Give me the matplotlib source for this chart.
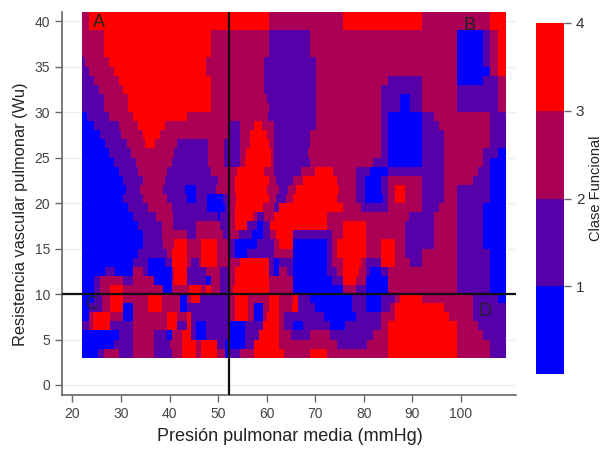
# -*- coding: utf-8 -*-

import matplotlib
matplotlib.use("Agg")
import matplotlib.pyplot as plt
import numpy as np
from matplotlib.colors import ListedColormap, BoundaryNorm

plt.rcParams['font.family'] = ['Liberation Sans', 'DejaVu Sans']

classColors = ['#0000ff', '#5500a8', '#aa0055', '#ff0000']
classEdges = [0, 1, 2, 3, 4]
xTicks = [20, 30, 40, 50, 60, 70, 80, 90, 100]
yTicks = [0, 5, 10, 15, 20, 25, 30, 35, 40]
xCut = 52.3
yCut = 10
cornerLabels = [("A", 25.5, 39.8), ("B", 101.8, 39.5), ("C", 23.9, 8.8), ("D", 105, 8.1)]

# each row: class, x where that class stops, class, x, ...
rows = {
    40: [3,23.5,4,60.5,3,75.85,4,92,3,106,4,109.2],
    39: [3,23.5,4,60.5,3,75.85,4,92,3,106,4,109.2],
    38: [3,26.4,4,48.5,3,60.5,2,69,3,99.35,1,104.5,2,106,3,107.8,4,109.2],
    37: [3,26.4,4,48.5,3,60.5,2,69,3,99.35,1,104.5,2,106,3,107.8,4,109.2],
    36: [3,26.4,4,48.5,3,60.5,2,69,3,99.35,1,104.5,2,106,3,107.8,4,109.2],
    35: [2,22.4,3,27.5,4,47.5,3,59.5,2,70.35,3,99.35,1,104.5,2,106,3,107.8,4,109.2],
    34: [2,23.4,3,28.5,4,47.5,3,59.5,2,70.35,3,99.35,1,106,3,107.8,4,109.2],
    33: [2,24.5,3,29.5,4,48.5,3,59.5,2,70.35,3,84.9,2,92,3,99.35,1,104.5,2,107.8,3,109.2],
    32: [2,25.5,3,30.5,4,48.5,3,59.5,2,70.35,3,83.4,2,92,3,99.35,2,107.8,3,109.2],
    31: [2,26.4,3,31.5,4,48.5,3,60,2,70.35,3,83.4,2,87.5,1,89.5,2,92,3,99.35,2,107.8,3,109.2],
    30: [2,26.4,3,31.5,4,48.5,3,60.5,2,70.35,3,83.4,2,87.5,1,89.5,2,92,3,99.35,2,107.8,3,109.2],
    29: [1,23,2,27.5,3,32.5,4,43.5,3,60.3,2,70.35,3,83.4,2,84.9,1,92,2,94.4,3,106,2,109.2],
    28: [1,24.5,2,29.5,3,33.5,4,39,3,52.5,2,54.6,3,57.6,4,59,3,61.4,2,70.35,3,83.4,2,84.9,1,92,2,95.4,3,106,2,109.2],
    27: [1,25.7,2,30,3,34.5,4,38,3,52,2,54.6,3,56.5,4,60,3,61.4,2,69,3,83.4,2,84.9,1,92,2,96.5,3,106,2,109.2],
    26: [1,26.7,2,31.3,3,35,4,37,3,41.4,2,48,3,51.3,2,54.6,3,56.5,4,60.4,3,61.4,2,69,3,83.4,2,84.9,1,92,2,96.5,3,106,2,109.2],
    25: [1,27.5,2,32,3,41,2,48,3,51.3,2,54.6,3,55.8,4,60.9,3,61.5,2,68.5,3,83.4,2,84.9,1,92,2,96.5,3,104.5,2,107.8,1,109.2],
    24: [1,28.4,2,33,3,40.4,2,48,3,51.3,2,54.6,3,55.5,4,60.9,3,61.5,2,69,3,82,2,84.9,1,92,2,96.5,3,104.5,2,106,1,109.2],
    23: [1,29.5,2,33.6,3,39.5,2,48.5,3,54,4,59.5,3,61.4,2,67,3,70,4,73.8,3,78.6,2,81.3,1,84.9,2,96.5,3,103.5,2,106,1,109.2],
    22: [1,30.5,2,34.6,3,39,2,50,3,53.5,4,60.4,3,62,2,65.5,3,67.6,4,74.5,3,78.6,2,80.3,1,83.4,2,84.9,3,92,2,96.5,3,102.5,2,106,1,109.2],
    21: [1,31,2,34,3,38.7,2,43.3,1,45.6,2,49.5,3,53.5,4,60,3,62.5,2,64.5,3,66,4,75,3,78.6,2,80.3,1,83.4,2,84.9,3,86.5,4,88.4,3,92,2,96.5,3,99.35,2,106,1,109.2],
    20: [1,30.5,2,34.6,3,39.4,2,43.5,1,45.6,2,47.7,1,51,2,52.5,3,53.8,4,60.4,3,62,2,64,3,65.5,4,74.5,3,78.6,2,80.3,1,84,2,84.9,3,86.5,4,88.4,3,92,2,96.5,3,99.35,2,106,1,109.2],
    19: [1,31.5,2,35.6,3,40.4,2,47.7,1,51.4,2,52.1,3,53.5,4,59.3,3,61.4,2,62.5,4,75.85,3,79.6,2,84.9,3,92,2,95.4,3,99.35,2,104.4,1,109.2],
    18: [1,32.5,2,37.3,3,40.7,2,50,1,50.4,2,52.1,3,53.5,4,57.3,3,58,2,59.5,3,61.4,4,72.4,3,89.3,2,94.4,3,99.35,2,104.4,1,109.2],
    17: [1,33.5,2,38.4,3,40.7,2,45.6,3,50.4,2,52.1,3,53.5,4,55.9,2,58,1,59.3,2,60.7,4,72.4,3,75.85,4,80.5,3,88.6,2,94.4,3,99.35,2,104.4,1,109.2],
    16: [1,34.6,2,38.4,3,43.5,2,45.6,3,51,2,52.5,3,54.2,2,56.9,1,59.3,2,60.7,3,62,4,65.5,2,73.4,3,75.85,4,80.5,3,88.6,2,94.4,3,99.35,2,104.4,1,109.2],
    15: [1,34.6,2,38.7,3,41.1,4,43.6,3,46.6,4,49.7,3,52.1,2,53.5,1,58,2,61.4,3,62.5,4,65.4,1,72.4,2,73.4,3,74.5,4,80.5,3,83.4,4,86.5,3,88.6,2,94.4,3,99.35,2,104.4,1,109.2],
    14: [1,33.6,2,39.4,3,40.4,4,43.6,3,46.6,4,49.7,3,52.1,2,53.5,1,55.9,2,61.4,3,65.4,1,72.4,2,73.4,3,74.5,4,80.5,3,83.4,4,86.5,3,88.6,2,92,3,99.35,2,106,1,109.2],
    13: [1,32.5,2,35.6,1,39.1,2,40.4,4,43.6,3,44.6,2,46,3,46.6,4,49.7,3,54.5,4,60.4,2,61.4,1,62.4,2,65.4,1,72.4,2,73.4,3,75.85,4,79.6,3,80.5,2,83.4,4,86.5,3,89.5,2,92,3,99.35,2,106,1,109.2],
    12: [1,26.7,2,28.8,1,32.5,3,34.6,2,35.6,1,40.4,3,41.1,4,43.6,2,47.5,3,50.4,2,52.5,3,53.5,4,60.4,2,61.4,1,62.4,3,64.2,2,65.4,1,72.4,2,74.5,3,75.85,4,79,3,80.5,2,81.3,1,83.4,2,84.9,3,99.35,2,106,1,109.2],
    11: [1,24.6,2,25.7,3,30.5,2,32.5,3,36.7,1,40.4,3,41.1,4,43.6,2,47.5,1,48.5,3,50.4,2,52.1,3,53.5,4,60.4,3,65.4,1,73.4,2,75.85,4,78.6,3,80.5,1,84.9,3,99.35,2,106,1,109.2],
    10: [1,24.6,2,25.7,3,27.7,4,30.5,3,38.7,1,40.4,3,44,4,46.6,3,47.5,4,48.5,3,50.4,2,52.1,3,53,4,60.4,3,65.4,1,75.85,3,78.6,2,80.5,1,84.9,3,99.35,2,106,1,109.2],
    9: [1,24.6,2,26,3,27.7,4,30.5,3,35.6,4,38.4,3,42.2,1,43.5,3,44.6,4,46.3,2,52.5,3,53.5,4,56.3,3,60.4,4,62.4,3,65.4,4,66.6,2,69,1,77.6,2,80.5,1,83.4,2,86.5,3,87.5,4,92,3,102.6,2,107.8,1,109.2],
    8: [1,23.6,2,26,3,27.7,4,30.5,1,32.5,3,35.6,4,38.4,3,42.2,1,43.5,2,52.1,3,53.5,4,56.3,3,57.6,1,59.3,3,60.4,4,62.4,3,65.2,4,66.6,2,69.9,1,77.6,2,80.5,1,83.4,2,85.5,3,86.5,4,96.5,3,102.6,2,109.2],
    7: [1,23.6,3,24.3,4,27.7,3,30.5,1,32.5,3,39.4,4,41.5,3,43.5,4,44.6,2,52.5,3,53.5,4,56.3,3,57.6,1,59.3,3,60,4,62.4,3,63.5,2,71.7,1,78.5,2,83.4,3,86.5,4,97.5,3,102.6,2,109.2],
    6: [2,23.6,3,24.3,4,27.7,2,32.5,3,39.4,4,41.5,2,43.5,4,44.6,2,45.6,1,47.5,2,52.5,1,55.6,2,59.3,4,62.4,3,63.5,2,65.4,1,67.5,2,73,1,76.2,2,83.4,3,85.1,4,99.35,3,103.5,2,109.2],
    5: [1,29.5,2,32.5,3,36.7,2,39.4,1,40.4,3,42.5,4,44.6,2,45.6,1,47.5,2,52.5,1,55.6,2,58.6,4,62.4,3,65,2,69,3,73,2,82,3,85.1,4,99.35,3,104.4,2,109.2],
    4: [1,28.4,2,32.5,3,36.7,2,40,3,42.5,4,45.6,3,46.6,4,49.7,2,51.4,1,55.6,2,57.6,4,62.4,3,74.5,2,80.7,3,85.1,4,99.35,3,106,2,109.2],
    3: [1,25.3,2,26.4,3,29.5,2,32.5,3,36.7,2,40.4,3,42.5,4,45.6,3,46.6,4,49.7,3,51.4,1,52.5,2,54.6,3,57.4,4,63.5,3,69,4,72.4,3,85.1,4,99.35,3,106,2,109.2],
}

xEdges = np.arange(22, 109.25 + 0.25, 0.25)
yEdges = np.arange(3, 42, 1)
xMid = 0.5 * (xEdges[:-1] + xEdges[1:])

grid = np.zeros((len(yEdges) - 1, len(xMid)))
for i, yVal in enumerate(yEdges[:-1]):
    run = rows[int(yVal)]
    stops = np.array(run[1::2])
    vals = np.array(run[0::2])
    idx = np.minimum(np.searchsorted(stops, xMid), len(vals) - 1)
    grid[i] = vals[idx] - 0.5

fig = plt.figure(figsize=(6.03, 4.53), dpi=100)
ax = fig.add_axes([62 / 603, 1 - 395 / 453, 454 / 603, 383 / 453])
cax = fig.add_axes([536 / 603, 1 - 374 / 453, 28 / 603, 351 / 453])

cmap = ListedColormap(classColors)
norm = BoundaryNorm(classEdges, cmap.N)
mesh = ax.pcolormesh(xEdges, yEdges, grid, cmap=cmap, norm=norm, zorder=2, antialiased=False)

ax.axvline(x=xCut, color='#101010', lw=1.6, zorder=3)
ax.axhline(y=yCut, color='#101010', lw=1.6, zorder=3)
for txt, xPos, yPos in cornerLabels:
    ax.text(xPos, yPos, txt, fontsize=13, color='#222222', ha='center', va='center', zorder=4)

ax.set_xlim(17.84, 111.4)
ax.set_ylim(-1.1, 41)
ax.set_xticks(xTicks)
ax.set_yticks(yTicks)
ax.grid(axis='y', color='#e8f0f3', lw=1, zorder=0)
ax.set_axisbelow(True)
ax.spines['top'].set_visible(False)
ax.spines['right'].set_visible(False)
ax.spines['left'].set_color('#666666')
ax.spines['bottom'].set_color('#666666')
ax.spines['left'].set_linewidth(1.2)
ax.spines['bottom'].set_linewidth(1.2)
ax.tick_params(axis='both', color='#666666', labelcolor='#444444', labelsize=10, length=5, width=1)
ax.set_xlabel("Presión pulmonar media (mmHg)", fontsize=13, color='#222222')
ax.set_ylabel("Resistencia vascular pulmonar (Wu)", fontsize=11.8, color='#222222')
ax.xaxis.set_label_coords((290 - 62) / 454, -(428 - 395) / 383)
ax.yaxis.set_label_coords(-(62 - 28) / 454, (395 - 214) / 383)

cbar = fig.colorbar(mesh, cax=cax, ticks=[1, 2, 3, 4], spacing='proportional')
cbar.minorticks_off()
cbar.outline.set_visible(False)
cbar.ax.tick_params(color='#666666', labelcolor='#333333', labelsize=11, length=5, width=1)
cbar.set_label("Clase Funcional", fontsize=10.5, color='#222222')
cbar.ax.yaxis.set_label_coords((589 - 536) / 28, (374 - 188) / 351)

plt.savefig("out.png", dpi=100)
